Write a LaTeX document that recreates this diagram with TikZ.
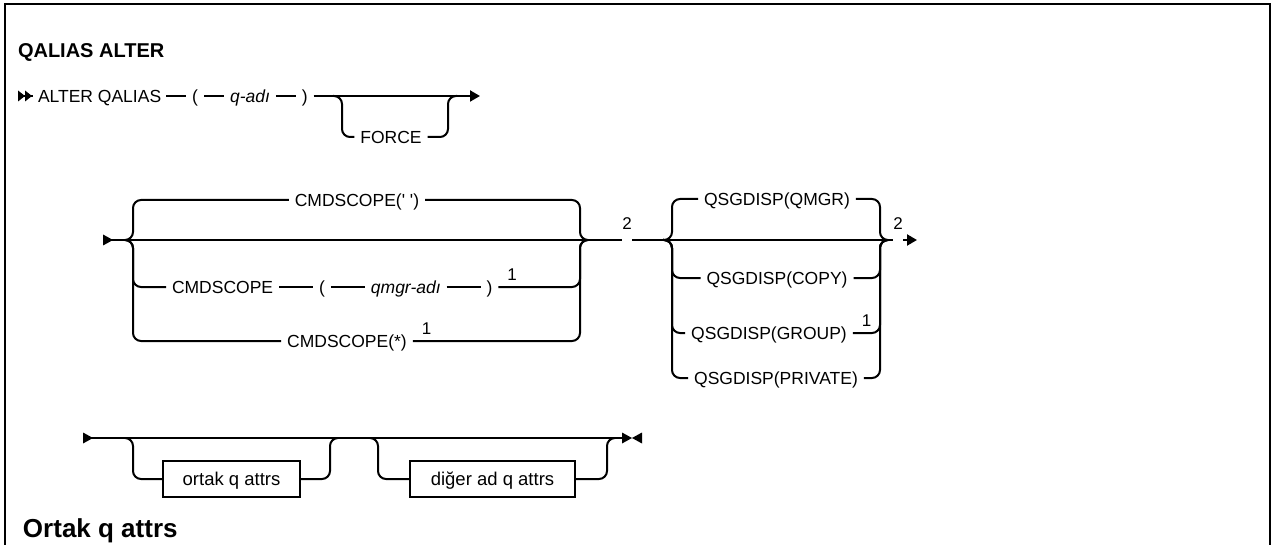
\documentclass[tikz,border=0pt]{standalone}
\usepackage{fontspec}
\setmainfont{Liberation Sans}
\usetikzlibrary{arrows.meta, positioning, calc}
\tikzset{
  every picture/.style={line width=2pt, x=1pt, y=-1pt},
  kw/.style={font=\fontsize{17.5}{21}\selectfont, inner xsep=5pt, inner ysep=0pt, text height=12.5pt, text depth=0pt},
  var/.style={kw, font=\fontsize{17.5}{21}\selectfont\itshape},
  sup/.style={font=\fontsize{17}{20}\selectfont, inner sep=0pt},
  attrbox/.style={kw, draw, line width=1.8pt, minimum height=36pt, font=\fontsize{18.5}{22}\selectfont},
  title/.style={font=\fontsize{20}{24}\selectfont\bfseries, inner sep=0pt, anchor=base west},
  head/.style={font=\fontsize{26}{30}\selectfont\bfseries, inner sep=0pt, anchor=base west},
  rail/.style={rounded corners=8pt},
  endarrow/.style={-{Triangle[length=10pt, width=11pt]}},
}
\begin{document}
\begin{tikzpicture}
  \newcommand{\railtip}[2]{% position, length (negative points left)
    \fill[shift={(#1)}] (0,-5.5) -- (#2,0) -- (0,5.5) -- cycle;}
  \useasboundingbox (0,0) rectangle (1276,545);
  \draw[line width=2.6pt] (5,550) -- (5,4) -- (1270,4) -- (1270,550);
  \node[title] (ttl) at (17,58) {QALIAS ALTER};

  % row 1
  \coordinate (r1s) at (18,96);
  \coordinate (r1t) at (25,96);
  \node[kw, anchor=west, inner xsep=4pt] (alter) at (33,96) {ALTER QALIAS};
  \node[kw, right=20pt of alter] (lpa) {(};
  \node[var, right=20pt of lpa] (qadi) {q-adı};
  \node[kw, right=20pt of qadi] (rpa) {)};
  \coordinate (r1e) at (480,96);
  \draw (r1s) -- (alter) -- (lpa) -- (qadi) -- (rpa);
  \draw[endarrow] (rpa) -- (r1e);
  \railtip{r1s}{7} \railtip{r1t}{7}
  \node[kw] (force) at (391,137) {FORCE};
  \coordinate (f1) at (333,96); \coordinate (fvl) at (342,96);
  \coordinate (fvr) at (448,96); \coordinate (f2) at (457,96);
  \draw[rail] (f1) -| (fvl |- force) -- (force);
  \draw[rail] (force) -| (fvr) -- (f2);

  % row 2
  \coordinate (r2s) at (103,240);
  \coordinate (g1l) at (125,240); \coordinate (v1l) at (133,240);
  \coordinate (v1r) at (580,240); \coordinate (g1r) at (588,240);
  \node[kw] (cmda) at (357,200) {CMDSCOPE(\textquotesingle\ \textquotesingle)};
  \node[kw, anchor=west] (cmdb) at (166,287) {CMDSCOPE};
  \node[kw, right=34pt of cmdb] (lpb) {(};
  \node[var, right=34pt of lpb] (qmgr) {qmgr-adı};
  \node[kw, right=34pt of qmgr] (rpb) {)};
  \node[sup, anchor=south west] (n1a) at ([xshift=8pt, yshift=6pt]rpb.east) {1};
  \node[kw] (cmdc) at (347,341) {CMDSCOPE(*)};
  \node[sup, anchor=south west] (n1b) at ([xshift=8pt, yshift=6pt]cmdc.east) {1};
  \railtip{r2s}{10}
  \draw (r2s) -- (g1l) -- (g1r);
  \draw[rail] (g1l) -| (v1l |- cmda) -- (cmda);
  \draw[rail] (cmda) -| (v1r) -- (g1r);
  \draw[rail] (g1l) -| (v1l |- cmdb) -- (cmdb);
  \draw (cmdb) -- (lpb) -- (qmgr) -- (rpb);
  \draw[rail] (rpb) -| (v1r) -- (g1r);
  \draw[rail] (g1l) -| (v1l |- cmdc) -- (cmdc);
  \draw[rail] (cmdc) -| (v1r) -- (g1r);

  \coordinate (m2a) at (622,240); \coordinate (m2b) at (632,240);
  \node[sup, anchor=south] (n2a) at ($(m2a)!0.5!(m2b)+(0,-9)$) {2};
  \coordinate (g2l) at (663,240); \coordinate (v2l) at (672,240);
  \coordinate (v2r) at (880,240); \coordinate (g2r) at (888,240);
  \coordinate (m3a) at (893,240); \coordinate (m3b) at (903,240);
  \coordinate (r2e) at (917,240);
  \node[kw] (qmgrd) at (777,199) {QSGDISP(QMGR)};
  \node[kw] (copyd) at (777,278) {QSGDISP(COPY)};
  \node[kw] (grpd) at (769,333) {QSGDISP(GROUP)};
  \node[sup, anchor=south west] (n1c) at ([xshift=8pt, yshift=6pt]grpd.east) {1};
  \node[kw] (privd) at (776,378) {QSGDISP(PRIVATE)};
  \draw (g1r) -- (m2a);
  \draw (m2b) -- (g2l) -- (g2r) -- (m3a);
  \foreach \opt in {qmgrd, copyd, grpd, privd} {
    \draw[rail] (g2l) -| (v2l |- \opt) -- (\opt);
    \draw[rail] (\opt) -| (v2r) -- (g2r);
  }
  \node[sup, anchor=south] (n2b) at ($(m3a)!0.5!(m3b)+(0,-9)$) {2};
  \draw[endarrow] (m3b) -- (r2e);

  % row 3
  \coordinate (r3s) at (83,438);
  \coordinate (b1l) at (125,438); \coordinate (u1l) at (133,438);
  \coordinate (u1r) at (330,438); \coordinate (b1r) at (338,438);
  \coordinate (b2l) at (370,438); \coordinate (u2l) at (378,438);
  \coordinate (u2r) at (607,438); \coordinate (b2r) at (615,438);
  \coordinate (r3e) at (622,438);
  \coordinate (r3f) at (642,438);
  \node[attrbox, minimum width=137pt] (ortak) at (231.5,479) {ortak q attrs};
  \node[attrbox, minimum width=165pt] (diger) at (492.5,479) {diğer ad q attrs};
  \draw (r3s) -- (r3e);
  \draw[rail] (b1l) -| (u1l |- ortak) -- (ortak);
  \draw[rail] (ortak) -| (u1r) -- (b1r);
  \draw[rail] (b2l) -| (u2l |- diger) -- (diger);
  \draw[rail] (diger) -| (u2r) -- (b2r);
  \railtip{r3s}{10} \railtip{r3e}{10} \railtip{r3f}{-10}

  \node[head] (hd) at (22,537) {Ortak q attrs};
\end{tikzpicture}
\end{document}
